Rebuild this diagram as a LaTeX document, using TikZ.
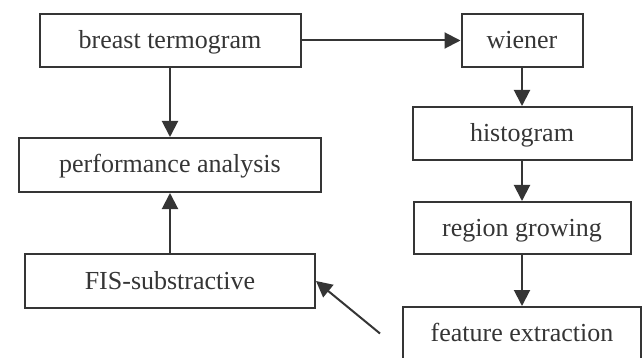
\documentclass[tikz,border=0pt]{standalone}
\usepackage{fontspec}
\setmainfont{Liberation Serif}
\usepackage{tikz}
\usetikzlibrary{arrows.meta,positioning}
\definecolor{inkgray}{HTML}{353535}
\tikzset{
node distance=100pt, % default distance between block centres
blockbox/.style={draw=inkgray, line width=2pt, rectangle, minimum height=53pt,
  inner sep=0pt, text height=20pt, text depth=4pt, text=inkgray,
  font=\fontsize{26}{30}\selectfont},
}
\tikzset{
    flow/.style={draw=inkgray, line width=2pt, -{Triangle[length=16pt,width=16pt]}}
}

\begin{document}
\begin{tikzpicture}[on grid]
   \useasboundingbox (0,0) rectangle (642pt,-358pt);
   \node[blockbox, minimum width=261pt] (breast) at (170pt,-40.5pt) {breast termogram};
   \node[blockbox, minimum width=121pt] (wiener) [right=352pt of breast] {wiener};
   \node[blockbox, minimum width=302pt, minimum height=54pt] (perf) [below=124.5pt of breast] {performance analysis};
   \node[blockbox, minimum width=219pt] (histo) [below=93pt of wiener] {histogram};
   \node[blockbox, minimum width=217pt, minimum height=52pt] (region) [below=94.5pt of histo] {region growing};
   \node[blockbox, minimum width=290pt, minimum height=54pt] (fis) [below=116pt of perf] {FIS-substractive};
   \node[blockbox, minimum width=238pt] (feature) [below=105.5pt of region] {feature extraction};
   \coordinate[left=22pt of feature.west] (tail);
    \draw[flow] (breast) -- (wiener);
    \draw[flow] (breast) -- (perf);
    \draw[flow] (wiener) -- (histo);
    \draw[flow] (histo) -- (region);
    \draw[flow] (region) -- (feature);
    \draw[flow] (fis) -- (perf);
    \draw[flow] (tail) -- (fis.east);
\end{tikzpicture}
\end{document}
